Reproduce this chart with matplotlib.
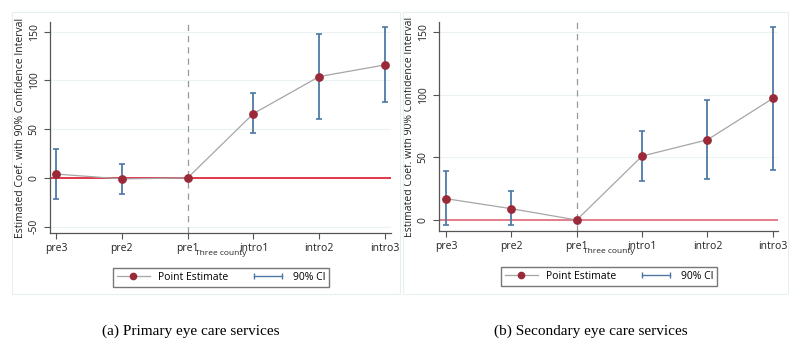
import matplotlib.pyplot as plt
from matplotlib.lines import Line2D
from matplotlib.legend_handler import HandlerLine2D
from matplotlib.patches import Rectangle

plt.rcParams['font.family'] = ['Open Sans', 'DejaVu Sans']

periods = ['pre3', 'pre2', 'pre1', 'intro1', 'intro2', 'intro3']

# (a) primary eye care
coef_a = [4, -1, 0, 66, 104, 116]
lo_a = [-22, -16, 0, 46, 60, 78]
hi_a = [30, 14, 0, 87, 148, 155]

# (b) secondary eye care
coef_b = [17, 9, 0, 51, 64, 97]
lo_b = [-4, -4, 0, 31, 33, 40]
hi_b = [39, 23, 0, 71, 96, 154]

captions = ['(a) Primary eye care services', '(b) Secondary eye care services']

fig = plt.figure(figsize=(8, 3.49), dpi=100)

# light panel frames
for x0, x1 in [(12, 400), (403, 788)]:
    fig.patches.append(Rectangle((x0 / 800, 1 - 294 / 349), (x1 - x0) / 800, 282 / 349,
                                 transform=fig.transFigure, fill=False,
                                 edgecolor='#e8eff1', lw=0.8))

panels = [
    dict(rect=[50 / 800, 1 - 233 / 349, 341 / 800, 211 / 349], xlim=(-0.09, 5.09),
         ylim=(-56.5, 160), yticks=[-50, 0, 50, 100, 150], zero='#e0293f',
         coef=coef_a, lo=lo_a, hi=hi_a, legx=221, legy=263, capx=191),
    dict(rect=[439 / 800, 1 - 231 / 349, 339 / 800, 209 / 349], xlim=(-0.107, 5.08),
         ylim=(-8.8, 158), yticks=[0, 50, 100, 150], zero='#e27383',
         coef=coef_b, lo=lo_b, hi=hi_b, legx=609, legy=262, capx=591),
]

for i, p in enumerate(panels):
    ax = fig.add_axes(p['rect'])
    x = list(range(len(periods)))
    for t in p['yticks']:
        ax.axhline(t, color='#eaf2f4', lw=0.8, zorder=0)
    ax.axhline(0, color=p['zero'], lw=1.3, zorder=1)
    ax.axvline(2, color='#999999', lw=0.9, ls=(0, (5, 4)), zorder=1)
    yerr = [[c - l for c, l in zip(p['coef'], p['lo'])],
            [h - c for c, h in zip(p['coef'], p['hi'])]]
    ax.errorbar(x, p['coef'], yerr=yerr, fmt='none', ecolor='#4e79a5',
                elinewidth=1.3, capsize=2.5, capthick=1.2, zorder=2)
    ax.plot(x, p['coef'], color='#a6a6a6', lw=0.9, zorder=3)
    ax.plot(x, p['coef'], 'o', color='#9b2a38', ms=5.3, zorder=4)

    ax.set_xlim(*p['xlim'])
    ax.set_ylim(*p['ylim'])
    ax.set_xticks(x)
    ax.set_xticklabels(periods, fontsize=7.5)
    ax.set_yticks(p['yticks'])
    ax.set_yticklabels([str(t) for t in p['yticks']], fontsize=7.5,
                       rotation=90, va='center')
    ax.tick_params(colors='#555555', labelcolor='#222222', length=4, width=0.8)
    for s in ['top', 'right']:
        ax.spines[s].set_visible(False)
    for s in ['left', 'bottom']:
        ax.spines[s].set_color('#555555')
        ax.spines[s].set_linewidth(0.9)
    ax.set_xlabel('Three county', fontsize=6, labelpad=-3, color='#222222')
    ax.set_ylabel('Estimated Coef. with 90% Confidence Interval', fontsize=7.5,
                  labelpad=2, color='#222222')

    pe = Line2D([], [], color='#a6a6a6', lw=0.9, marker='o', ms=4.5,
                mfc='#9b2a38', mec='#9b2a38')
    ci = Line2D([], [], color='#4e79a5', lw=1.0, marker='|', ms=5)
    ax.legend([pe, ci], ['Point Estimate', '90% CI'], ncol=2, fontsize=7.5,
              loc='upper center', bbox_to_anchor=(p['legx'] / 800, 1 - p['legy'] / 349),
              bbox_transform=fig.transFigure, fancybox=False, edgecolor='#777777',
              framealpha=1, borderpad=0.35, handlelength=3.2, columnspacing=2.2,
              handler_map={ci: HandlerLine2D(numpoints=2), pe: HandlerLine2D(numpoints=1)})

    fig.text(p['capx'] / 800, 1 - 331 / 349, captions[i],
             family='Liberation Serif', fontsize=11, ha='center', va='center')

fig.savefig('out.png', dpi=100, facecolor='white')
